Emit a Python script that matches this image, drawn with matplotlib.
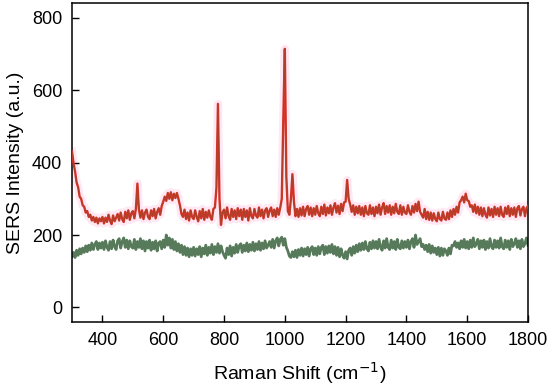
import numpy as np
import matplotlib
matplotlib.use("Agg")
import matplotlib.pyplot as plt

raman_shift = np.arange(300, 1801, 5)

sers_red = [
    430, 398, 375, 345, 332, 306, 300, 282, 278, 262,
    266, 250, 256, 240, 250, 236, 248, 232, 246, 238,
    250, 232, 248, 236, 256, 240, 230, 254, 238, 248,
    258, 240, 262, 244, 236, 264, 246, 268, 242, 260,
    266, 246, 272, 342, 270, 248, 268, 244, 262, 270,
    250, 244, 268, 252, 272, 246, 264, 274, 256, 280,
    292, 306, 294, 316, 300, 318, 296, 314, 302, 316,
    300, 282, 258, 250, 270, 244, 262, 240, 268, 250,
    244, 268, 250, 238, 266, 246, 272, 242, 264, 248,
    268, 250, 242, 272, 276, 330, 562, 300, 228, 262,
    270, 246, 276, 252, 242, 272, 250, 268, 244, 274,
    252, 270, 242, 272, 250, 268, 240, 274, 252, 246,
    272, 254, 248, 276, 252, 270, 246, 268, 274, 250,
    268, 276, 252, 270, 250, 274, 256, 276, 300, 520,
    714, 360, 266, 256, 300, 368, 292, 252, 272, 250,
    274, 254, 278, 252, 272, 280, 256, 276, 252, 274,
    256, 280, 260, 252, 278, 258, 284, 254, 276, 260,
    282, 256, 276, 288, 262, 281, 258, 286, 266, 290,
    292, 352, 300, 284, 264, 282, 256, 278, 260, 280,
    256, 276, 252, 280, 260, 256, 282, 258, 276, 252,
    278, 260, 284, 256, 276, 288, 258, 280, 262, 282,
    256, 278, 260, 286, 264, 258, 282, 256, 278, 262,
    258, 282, 264, 256, 280, 262, 286, 266, 292, 264,
    256, 248, 272, 244, 264, 242, 262, 240, 260, 244,
    238, 262, 244, 240, 264, 246, 242, 262, 244, 268,
    250, 272, 256, 278, 262, 290, 296, 306, 290, 314,
    296, 294, 278, 282, 264, 284, 260, 278, 256, 276,
    252, 274, 256, 248, 276, 254, 272, 250, 278, 256,
    274, 252, 278, 256, 250, 276, 258, 280, 252, 274,
    256, 276, 250, 274, 280, 254, 272, 278, 252, 274,
    280,
]

sers_green = [
    140, 152, 138, 158, 144, 162, 148, 164, 152, 170,
    154, 172, 158, 178, 160, 174, 182, 160, 178, 164,
    180, 160, 184, 166, 158, 182, 162, 186, 168, 160,
    184, 190, 164, 182, 192, 166, 186, 162, 184, 168,
    164, 188, 160, 182, 166, 190, 162, 184, 156, 182,
    164, 186, 158, 180, 162, 184, 156, 178, 182, 162,
    186, 166, 200, 172, 192, 164, 188, 160, 182, 156,
    176, 152, 172, 146, 168, 144, 164, 140, 162, 144,
    166, 142, 162, 146, 168, 140, 164, 148, 172, 144,
    166, 150, 174, 146, 168, 152, 176, 150, 170, 154,
    144, 136, 164, 146, 170, 142, 166, 150, 174, 152,
    170, 176, 152, 172, 156, 178, 154, 174, 158, 180,
    156, 176, 160, 182, 158, 178, 162, 184, 164, 172,
    182, 166, 188, 164, 184, 192, 170, 188, 194, 172,
    190, 166, 156, 142, 138, 154, 140, 158, 138, 160,
    144, 164, 142, 162, 146, 166, 142, 162, 168, 146,
    164, 144, 168, 148, 166, 172, 146, 168, 150, 170,
    152, 174, 148, 168, 144, 166, 140, 162, 144, 136,
    154, 134, 158, 164, 144, 168, 150, 172, 154, 176,
    158, 178, 160, 182, 162, 156, 180, 162, 184, 164,
    182, 162, 188, 166, 158, 184, 164, 190, 166, 160,
    186, 164, 182, 160, 188, 166, 162, 184, 164, 182,
    166, 186, 162, 182, 190, 166, 200, 174, 182, 190,
    168, 174, 160, 172, 154, 174, 150, 170, 152, 164,
    146, 166, 142, 164, 144, 162, 156, 144, 164, 148,
    172, 170, 182, 166, 178, 162, 184, 166, 188, 164,
    182, 162, 186, 166, 192, 168, 176, 188, 162, 184,
    166, 186, 160, 182, 164, 190, 168, 162, 186, 166,
    184, 164, 192, 168, 162, 186, 166, 184, 160, 188,
    168, 176, 190, 166, 184, 162, 188, 168, 176, 192,
    172,
]

x_ticks = [400, 600, 800, 1000, 1200, 1400, 1600, 1800]
y_ticks = [0, 200, 400, 600, 800]

plt.rcParams['font.family'] = ['Liberation Sans', 'DejaVu Sans']

fig = plt.figure(figsize=(5.5, 3.91), dpi=100)
ax = fig.add_axes([0.131, 0.1765, 0.829, 0.8155])

ax.plot(raman_shift, sers_red, color='#ffd9ec', lw=6, alpha=0.6, solid_joinstyle='round', zorder=1)
ax.plot(raman_shift, sers_red, color='#d9352a', lw=1.7, zorder=3)
ax.plot(raman_shift, sers_red, color='#8a4a28', lw=0.7, alpha=0.6, zorder=4)
ax.plot(raman_shift, sers_green, color='#567a5a', lw=2.0, zorder=2)

ax.set_xlim(300, 1800)
ax.set_ylim(-40, 840)
ax.set_xticks(x_ticks)
ax.set_yticks(y_ticks)
ax.tick_params(direction='in', length=5, width=1, labelsize=13, top=False, right=False, pad=7)
for s in ax.spines.values():
    s.set_linewidth(1.1)
    s.set_color('black')

ax.set_xlabel('Raman Shift (cm$^{-1}$)', fontsize=14, labelpad=8)
ax.set_ylabel('SERS Intensity (a.u.)', fontsize=14, labelpad=6)

fig.savefig('out.png', dpi=100)
